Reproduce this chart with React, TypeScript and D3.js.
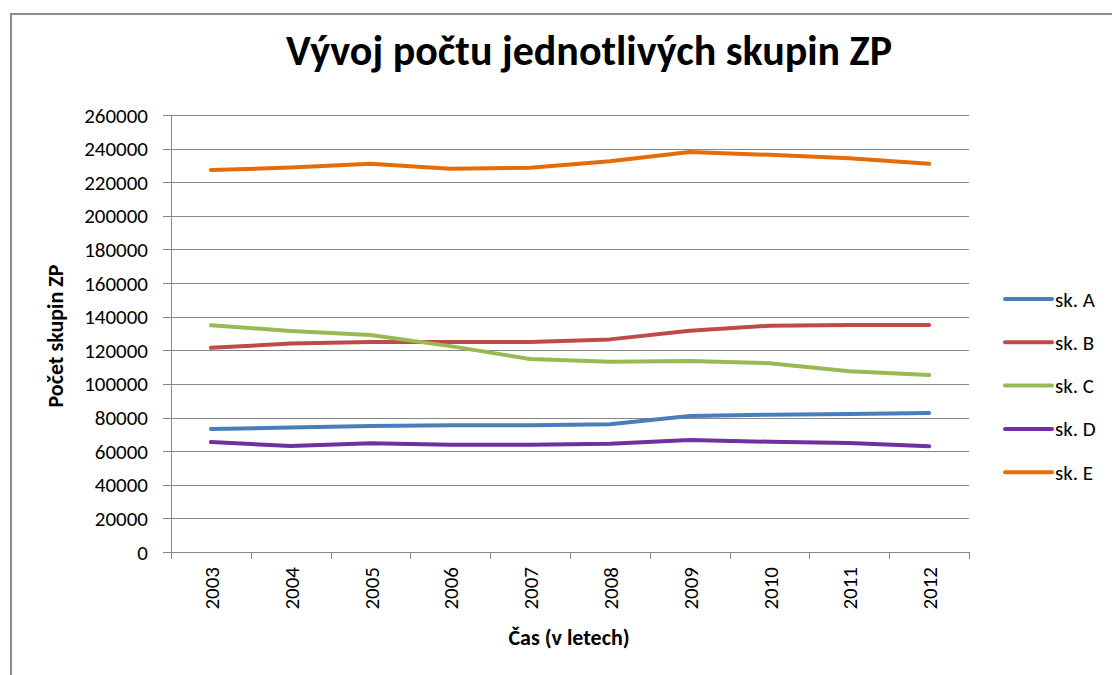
import React from 'react'
import * as d3 from 'd3'

const years = ['2003', '2004', '2005', '2006', '2007', '2008', '2009', '2010', '2011', '2012']

const skA = [73200, 74000, 75000, 75400, 75400, 76000, 80900, 81700, 82100, 82700]
const skB = [121500, 124000, 125000, 125000, 125000, 126500, 131700, 134600, 135000, 135000]
const skC = [134900, 131500, 129100, 122500, 114800, 113200, 113600, 112300, 107500, 105300]
const skD = [65400, 63000, 64700, 63800, 63800, 64400, 66600, 65600, 64900, 62900]
const skE = [227300, 228700, 231000, 228000, 228600, 232500, 238000, 236300, 234300, 231000]

const seriesNames = ['sk. A', 'sk. B', 'sk. C', 'sk. D', 'sk. E']
const seriesColors = ['#4A7EBB', '#BE4B48', '#98B954', '#7030A0', '#E46C0A']

const yTicks = [0, 20000, 40000, 60000, 80000, 100000, 120000, 140000, 160000, 180000, 200000, 220000, 240000, 260000]

const FONT = 'Carlito, Lato, "Liberation Sans", sans-serif'

export default function App() {
    const series = [skA, skB, skC, skD, skE]

    const left = 171
    const right = 969
    const top = 115
    const bottom = 552

    const x = d3.scaleBand<string>()
        .domain(years)
        .range([left, right])

    const y = d3.scaleLinear()
        .domain([0, 260000])
        .range([bottom, top])

    const line = d3.line<number>()
        .x((d, i) => (x(years[i]) as number) + x.bandwidth() / 2)
        .y(d => y(d))

    const gridColor = '#868686'

    return (
        <svg width={1112} height={675} style={{ position: 'absolute', left: 0, top: 0, background: '#fff' }}
            fontFamily={FONT}>
            <rect x={11} y={14} width={1200} height={700} fill="none" stroke="#8c8c8c" strokeWidth={2} />

            <text x={589} y={65} textAnchor="middle" fontSize={42} fontWeight="bold" fill="#000">
                Vývoj počtu jednotlivých skupin ZP
            </text>

            {/* grid + y axis */}
            {yTicks.map(t => (
                <g key={t}>
                    <line x1={left - 8} x2={right} y1={Math.round(y(t)) + 0.5} y2={Math.round(y(t)) + 0.5}
                        stroke={gridColor} strokeWidth={1} />
                    <text x={148} y={y(t)} dy="0.36em" textAnchor="end" fontSize={21} fill="#000">{t}</text>
                </g>
            ))}
            <line x1={left + 0.5} x2={left + 0.5} y1={top} y2={bottom + 6} stroke={gridColor} />

            {/* x axis ticks */}
            {years.concat(['end']).map((yr, i) => {
                const xx = i < years.length ? (x(yr) as number) : right
                return <line key={yr} x1={Math.round(xx) + 0.5} x2={Math.round(xx) + 0.5} y1={bottom} y2={bottom + 7}
                    stroke={gridColor} />
            })}
            {years.map(yr => {
                const cx = (x(yr) as number) + x.bandwidth() / 2
                return (
                    <text key={yr} transform={`translate(${cx + 8},567) rotate(-90)`} textAnchor="end"
                        fontSize={21} fill="#000">{yr}</text>
                )
            })}

            <text x={569} y={645} textAnchor="middle" fontSize={22} fontWeight="bold" fill="#000">Čas (v letech)</text>
            <text transform="translate(63,336) rotate(-90)" textAnchor="middle" fontSize={22} fontWeight="bold"
                fill="#000">Počet skupin ZP</text>

            {/* lines */}
            {series.map((s, i) => (
                <path key={seriesNames[i]} d={line(s) as string} fill="none" stroke={seriesColors[i]}
                    strokeWidth={4} strokeLinecap="round" strokeLinejoin="round" />
            ))}

            {/* legend */}
            {seriesNames.map((n, i) => {
                const ly = 299 + i * 43.3
                return (
                    <g key={n}>
                        <line x1={1005} x2={1052} y1={ly} y2={ly} stroke={seriesColors[i]} strokeWidth={4}
                            strokeLinecap="round" />
                        <text x={1055} y={ly} dy="0.36em" fontSize={21} fill="#000">{n}</text>
                    </g>
                )
            })}
        </svg>
    )
}
